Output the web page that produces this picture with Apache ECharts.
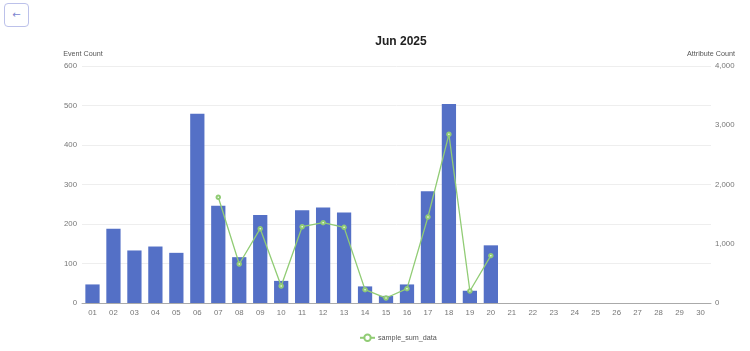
<!DOCTYPE html>
<html>
<head>
<meta charset="utf-8">
<script src="https://cdn.jsdelivr.net/npm/echarts@6/dist/echarts.min.js"></script>
<style>
  html, body { margin: 0; padding: 0; background: #fff; }
  #chart { width: 750px; height: 351px; }
  .back {
    position: absolute; left: 4px; top: 3px; width: 23px; height: 22px;
    border: 1px solid #bcc1ea; border-radius: 4px; background: #fff;
    color: #7b84d0; font: 10px "DejaVu Sans", sans-serif; text-align: center; line-height: 22px;
  }
</style>
</head>
<body>
<div class="back">&#8592;</div>
<div id="chart"></div>
<script>
  // days of the month
  let days = [];
  for (let d = 1; d <= 30; d++) days.push(d < 10 ? '0' + d : String(d));

  // event counts (bars, left axis)
  let eventCounts = [47, 188, 133, 143, 127, 479, 246, 116, 223, 56, 235, 242, 229, 42, 18, 47, 283, 504, 31, 146,
    null, null, null, null, null, null, null, null, null, null];

  // sample_sum_data (line, right axis)
  let sampleSum = [null, null, null, null, null, null, 1784, 658, 1254, 287, 1288, 1356, 1277, 225, 84, 242, 1451, 2847, 203, 799,
    null, null, null, null, null, null, null, null, null, null];

  let font = 'Helvetica, Arial, "Liberation Sans", sans-serif';
  let myChart = echarts.init(document.getElementById('chart'));

  let option = {
    animation: false,
    textStyle: { fontFamily: font },
    title: {
      text: 'Jun 2025',
      left: 396, top: 31,
      textAlign: 'center',
      textStyle: { fontSize: 12, fontWeight: 'bold', color: '#222', fontFamily: font }
    },
    legend: {
      data: ['sample_sum_data'],
      left: 354, bottom: 4,
      itemWidth: 15, itemHeight: 8, itemGap: 3,
      textStyle: { fontSize: 7.2, color: '#555', padding: [0, 0, 0, -2] }
    },
    grid: { left: 82, right: 39, top: 66, bottom: 48 },
    xAxis: {
      type: 'category',
      data: days,
      axisLine: { lineStyle: { color: '#aaa' } },
      axisTick: { lineStyle: { color: '#aaa' } },
      axisLabel: { fontSize: 7.8, color: '#777', margin: 6 }
    },
    yAxis: [
      {
        type: 'value', name: 'Event Count', min: 0, max: 600, interval: 100,
        nameTextStyle: { fontSize: 7.2, color: '#555', padding: [0, 0, 0, 2] },
        nameGap: 8,
        axisLabel: { fontSize: 7.8, color: '#777', margin: 5 },
        splitLine: { lineStyle: { color: '#eee' } }
      },
      {
        type: 'value', name: 'Attribute Count', min: 0, max: 4000, interval: 1000,
        nameTextStyle: { fontSize: 7.2, color: '#555' },
        nameGap: 8,
        axisLabel: { fontSize: 7.8, color: '#777', margin: 4 },
        splitLine: { show: false }
      }
    ],
    series: [
      {
        name: 'Event Count', type: 'bar', yAxisIndex: 0,
        data: eventCounts, barWidth: '68%',
        itemStyle: { color: '#5470c6' }
      },
      {
        name: 'sample_sum_data', type: 'line', yAxisIndex: 1,
        data: sampleSum, symbol: 'emptyCircle', symbolSize: 3.5,
        lineStyle: { width: 1.3, color: '#91cc75' },
        itemStyle: { color: '#91cc75' }
      }
    ]
  };
  myChart.setOption(option, true);
</script>
</body>
</html>
